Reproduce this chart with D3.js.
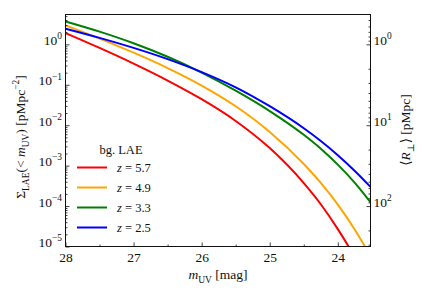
<!DOCTYPE html>
<html lang="en">
<head>
<meta charset="utf-8" />
<script src="https://d3js.org/d3.v7.min.js"></script>
<style>
  body { margin: 0; background: #fff; }
  text { font-family: "Liberation Serif", "DejaVu Serif", serif; fill: #111; }
</style>
</head>
<body>
<script>
// magnitude grid (x) and cumulative surface densities per redshift
const mUV = [28, 27.5, 27, 26.5, 26, 25.5, 25, 24.5, 24.25, 24, 23.75, 23.5];
const sigmaZ57 = [1.901, 0.815, 0.334, 0.1276, 0.04406, 0.01276, 0.002716, 0.0003707, 0.0001109, 0.00002685, 0.00000537, 0.00000083];
const sigmaZ49 = [2.944, 1.387, 0.6223, 0.2594, 0.09572, 0.02944, 0.006823, 0.001099, 0.000374, 0.0001084, 0.00002606, 0.00000506];
const sigmaZ33 = [3.698, 2.070, 1.067, 0.4932, 0.2009, 0.07161, 0.02239, 0.005794, 0.002624, 0.001059, 0.000375, 0.0001125];
const sigmaZ25 = [2.443, 1.449, 0.8185, 0.4315, 0.2065, 0.0867, 0.02951, 0.008414, 0.004074, 0.00182, 0.000741, 0.0002754];

const zLabels = ["5.7", "4.9", "3.3", "2.5"];
const colors = ["red", "orange", "green", "blue"];
const xTicks = [28, 27, 26, 25, 24];
const yExps = [0, -1, -2, -3, -4, -5];
const rExps = [0, 1, 2];

const w = 436, h = 291;
const pLeft = 65.5, pRight = 370.5, pTop = 14.5, pBottom = 246.5;
const fs = 13.5;

const series = [sigmaZ57, sigmaZ49, sigmaZ33, sigmaZ25];

const sigTop = 5.48, sigBot = 1e-5;

const xScale = d3.scaleLinear().domain([28, 23.52]).range([pLeft, pRight]);
const yScale = d3.scaleLog().domain([sigBot, sigTop]).range([pBottom, pTop]);
// mean separation R = Sigma^-1/2
const rScale = d3.scaleLog().domain([1 / Math.sqrt(sigTop), 1 / Math.sqrt(sigBot)]).range([pTop, pBottom]);

const svg = d3.select("body").append("svg")
  .attr("width", w)
  .attr("height", h);

function rich(sel, parts) {
  let cur = 0;
  parts.forEach(p => {
    const target = p.sub ? 0.28 * fs : p.sup ? -0.42 * fs : 0;
    const ts = sel.append("tspan").text(p.t).attr("dy", target - cur);
    cur = target;
    if (p.sub || p.sup) ts.attr("font-size", fs * 0.7);
    if (p.it) ts.attr("font-style", "italic");
  });
}

function minorTicks(lo, hi) {
  const out = [];
  for (let e = Math.floor(Math.log10(lo)); e <= Math.ceil(Math.log10(hi)); e++) {
    for (let k = 2; k <= 9; k++) {
      const v = k * Math.pow(10, e);
      if (v > lo && v < hi) out.push(v);
    }
  }
  return out;
}

svg.append("clipPath").attr("id", "clip")
  .append("rect")
  .attr("x", pLeft).attr("y", pTop)
  .attr("width", pRight - pLeft).attr("height", pBottom - pTop);

const line = d3.line()
  .x((d, i) => xScale(mUV[i]))
  .y(d => yScale(d))
  .curve(d3.curveMonotoneX);

svg.append("g").attr("clip-path", "url(#clip)")
  .selectAll("path")
  .data(series)
  .enter()
  .append("path")
  .attr("d", d => line(d))
  .attr("fill", "none")
  .attr("stroke", (d, i) => colors[i])
  .attr("stroke-width", 2);

// x axis
svg.append("g")
  .attr("transform", "translate(0," + pBottom + ")")
  .call(d3.axisBottom(xScale).tickValues(xTicks).tickSize(-4).tickPadding(6).tickFormat(d3.format("d")));
svg.append("g")
  .attr("transform", "translate(0," + pBottom + ")")
  .call(d3.axisBottom(xScale).tickValues([27.5, 26.5, 25.5, 24.5]).tickSize(-2).tickFormat(""));

// left y axis
const yAxis = svg.append("g")
  .attr("transform", "translate(" + pLeft + ",0)")
  .call(d3.axisLeft(yScale).tickValues(yExps.map(e => Math.pow(10, e))).tickSize(-4).tickPadding(3.5).tickFormat(""));
yAxis.selectAll(".tick text").each(function (d) {
  const e = Math.round(Math.log10(d));
  rich(d3.select(this), [{ t: "10" }, { t: (e < 0 ? "\u2212" : "") + Math.abs(e), sup: true }]);
});
svg.append("g")
  .attr("transform", "translate(" + pLeft + ",0)")
  .call(d3.axisLeft(yScale).tickValues(minorTicks(sigBot, sigTop)).tickSize(-2).tickFormat(""));

// right axis
const rAxis = svg.append("g")
  .attr("transform", "translate(" + pRight + ",0)")
  .call(d3.axisRight(rScale).tickValues(rExps.map(e => Math.pow(10, e))).tickSize(-4).tickPadding(3).tickFormat(""));
rAxis.selectAll(".tick text").each(function (d) {
  const e = Math.round(Math.log10(d));
  rich(d3.select(this), [{ t: "10" }, { t: "" + e, sup: true }]);
});
svg.append("g")
  .attr("transform", "translate(" + pRight + ",0)")
  .call(d3.axisRight(rScale).tickValues(minorTicks(rScale.domain()[0], rScale.domain()[1])).tickSize(-2).tickFormat(""));

svg.selectAll(".domain").remove();
svg.selectAll(".tick line").attr("stroke", "#111").attr("stroke-width", 0.8);
svg.selectAll(".tick text").attr("font-size", fs).attr("font-family", "Liberation Serif, DejaVu Serif, serif");

// frame
svg.append("rect")
  .attr("x", pLeft).attr("y", pTop)
  .attr("width", pRight - pLeft).attr("height", pBottom - pTop)
  .attr("fill", "none").attr("stroke", "#111").attr("stroke-width", 1);

// axis labels
const xl = svg.append("text")
  .attr("x", (pLeft + pRight) / 2).attr("y", 279)
  .attr("text-anchor", "middle").attr("font-size", fs);
rich(xl, [{ t: "m", it: true }, { t: "UV", sub: true }, { t: " [mag]" }]);

const yl = svg.append("text")
  .attr("transform", "translate(25,137) rotate(-90)")
  .attr("text-anchor", "middle").attr("font-size", fs);
rich(yl, [{ t: "\u03A3" }, { t: "LAE", sub: true }, { t: "(< " }, { t: "m", it: true }, { t: "UV", sub: true },
  { t: ") [pMpc" }, { t: "\u22122", sup: true }, { t: "]" }]);

const rl = svg.append("text")
  .attr("transform", "translate(410,130) rotate(-90)")
  .attr("text-anchor", "middle").attr("font-size", fs);
rich(rl, [{ t: "\u27E8" }, { t: "R", it: true }, { t: "\u22A5", sub: true }, { t: "\u27E9 [pMpc]" }]);

// legend
const legend = svg.append("g");
legend.append("text")
  .attr("x", 121).attr("y", 154)
  .attr("text-anchor", "middle").attr("font-size", 12.5)
  .text("bg. LAE");
zLabels.forEach((z, i) => {
  const ly = 167.5 + i * 20;
  legend.append("line")
    .attr("x1", 77).attr("x2", 107)
    .attr("y1", ly).attr("y2", ly)
    .attr("stroke", colors[i]).attr("stroke-width", 2);
  const t = legend.append("text")
    .attr("x", 117).attr("y", ly + 4.5)
    .attr("font-size", 12.5);
  t.append("tspan").attr("font-style", "italic").text("z");
  t.append("tspan").text(" = " + z);
});
</script>
</body>
</html>
